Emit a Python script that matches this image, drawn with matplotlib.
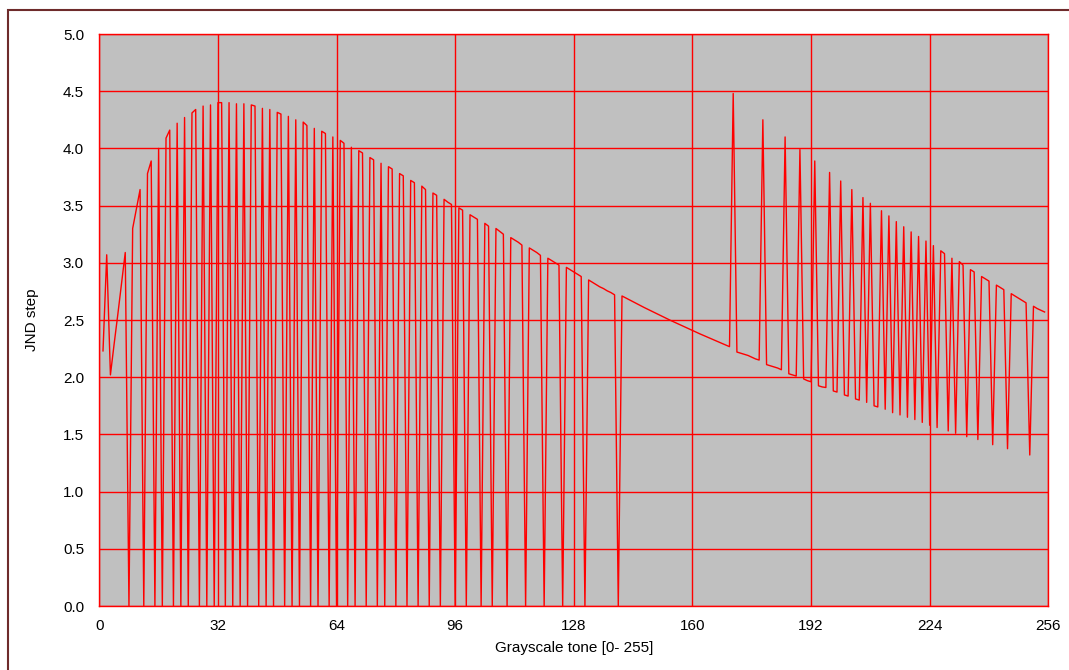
import matplotlib
matplotlib.use('Agg')
import matplotlib.pyplot as plt
from matplotlib.patches import Rectangle
from matplotlib.ticker import FormatStrFormatter

# Grayscale tones (1..255): JND step between tone-1 and tone
tones = list(range(1, 256))

jnd_step = [
    # 1-40
    2.23, 3.07, 2.02, 2.29, 2.55, 2.82, 3.09, 0.0, 3.30, 3.47,
    3.64, 0.0, 3.78, 3.89, 0.0, 4.00, 0.0, 4.09, 4.16, 0.0,
    4.22, 0.0, 4.27, 0.0, 4.31, 4.34, 0.0, 4.37, 0.0, 4.38,
    0.0, 4.40, 4.40, 0.0, 4.40, 0.0, 4.39, 0.0, 4.39, 0.0,
    # 41-80
    4.38, 4.37, 0.0, 4.35, 0.0, 4.34, 0.0, 4.315, 4.30, 0.0,
    4.28, 0.0, 4.25, 0.0, 4.23, 4.20, 0.0, 4.175, 0.0, 4.15,
    4.13, 0.0, 4.10, 0.0, 4.07, 4.045, 0.0, 4.01, 0.0, 3.98,
    3.96, 0.0, 3.92, 3.90, 0.0, 3.87, 0.0, 3.84, 3.82, 0.0,
    # 81-120
    3.78, 3.76, 0.0, 3.72, 3.70, 0.0, 3.67, 3.64, 0.0, 3.61,
    3.59, 0.0, 3.555, 3.53, 3.51, 0.0, 3.48, 3.46, 0.0, 3.42,
    3.40, 3.38, 0.0, 3.345, 3.32, 0.0, 3.30, 3.275, 3.25, 0.0,
    3.22, 3.20, 3.18, 3.155, 0.0, 3.13, 3.11, 3.09, 3.065, 0.0,
    # 121-160
    3.04, 3.02, 3.00, 2.98, 0.0, 2.96, 2.94, 2.92, 2.90, 2.88,
    0.0, 2.85, 2.83, 2.81, 2.79, 2.775, 2.755, 2.74, 2.72, 0.0,
    2.71, 2.693, 2.676, 2.659, 2.642, 2.625, 2.609, 2.593, 2.577, 2.561,
    2.545, 2.529, 2.513, 2.498, 2.483, 2.468, 2.453, 2.438, 2.423, 2.408,
    # 161-200
    2.393, 2.379, 2.365, 2.351, 2.337, 2.323, 2.309, 2.295, 2.281, 2.267,
    4.48, 2.22, 2.21, 2.20, 2.19, 2.175, 2.16, 2.15, 4.25, 2.11,
    2.10, 2.09, 2.08, 2.065, 4.10, 2.03, 2.02, 2.01, 3.99, 1.985,
    1.97, 1.96, 3.89, 1.925, 1.915, 1.91, 3.79, 1.88, 1.87, 3.715,
    # 201-240
    1.845, 1.835, 3.64, 1.81, 1.80, 3.57, 1.78, 3.52, 1.75, 1.74,
    3.455, 1.72, 3.41, 1.69, 3.36, 1.67, 3.315, 1.65, 3.27, 1.63,
    3.23, 1.605, 3.19, 1.58, 3.15, 1.56, 3.105, 3.08, 1.53, 3.04,
    1.51, 3.01, 2.98, 1.48, 2.94, 2.92, 1.455, 2.88, 2.86, 2.84,
    # 241-255
    1.41, 2.805, 2.785, 2.765, 1.375, 2.73, 2.71, 2.69, 2.67, 2.65,
    1.32, 2.62, 2.60, 2.585, 2.57,
]

x_ticks = [0, 32, 64, 96, 128, 160, 192, 224, 256]
y_ticks = [0.0, 0.5, 1.0, 1.5, 2.0, 2.5, 3.0, 3.5, 4.0, 4.5, 5.0]

plt.rcParams['font.family'] = ['Liberation Sans', 'DejaVu Sans']

W, H = 1069, 670
fig = plt.figure(figsize=(W / 100, H / 100), dpi=100)
fig.patch.set_facecolor('white')

# outer frame (only left and top edges fall inside the image)
fig.patches.append(Rectangle((8 / W, -0.05), 1.2, (H - 10) / H + 0.05,
                             transform=fig.transFigure, fill=False,
                             edgecolor='#6e2b2b', linewidth=1.5))

left, right, top, bottom = 99.3, 1048.3, 34, 606
ax = fig.add_axes([left / W, (H - bottom) / H, (right - left) / W, (bottom - top) / H])
ax.set_facecolor('#C0C0C0')
ax.plot(tones, jnd_step, color='#FF0000', lw=1.0, zorder=3)

ax.set_xlim(0, 256)
ax.set_ylim(0, 5)
ax.set_xticks(x_ticks)
ax.set_yticks(y_ticks)
ax.yaxis.set_major_formatter(FormatStrFormatter('%.1f'))
ax.grid(True, color='#FF0000', lw=1.0, zorder=1)
ax.set_axisbelow(True)
for sp in ax.spines.values():
    sp.set_color('#FF0000')
    sp.set_linewidth(1.0)
ax.tick_params(length=0, labelsize=11, colors='black')
ax.tick_params(axis='y', pad=11)
ax.tick_params(axis='x', pad=9)

fig.text((left + right) / 2 / W, (H - 648) / H, 'Grayscale tone [0- 255]',
         ha='center', va='center', fontsize=11)
fig.text(32 / W, (H - 320) / H, 'JND step', ha='center', va='center',
         rotation=90, fontsize=11)

fig.savefig('out.png', dpi=100)
